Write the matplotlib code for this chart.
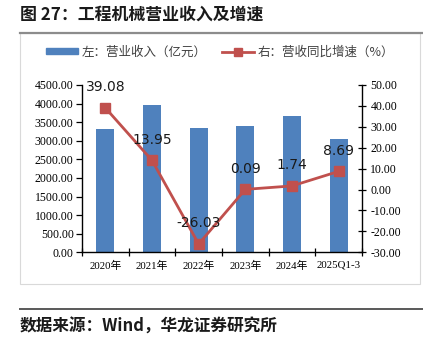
import matplotlib
matplotlib.use("Agg")
import matplotlib.pyplot as plt
from matplotlib.lines import Line2D
from matplotlib.patches import Rectangle, Patch

plt.rcParams['font.family'] = ['Noto Sans CJK SC', 'DejaVu Sans']

categories = ["2020年", "2021年", "2022年", "2023年", "2024年", "2025Q1-3"]
revenue = [3308, 3962, 3351, 3405, 3658, 3048]          # 营业收入（亿元）
growth = [39.08, 13.95, -26.03, 0.09, 1.74, 8.69]       # 营收同比增速（%）
left_ticks = [0, 500, 1000, 1500, 2000, 2500, 3000, 3500, 4000, 4500]
right_ticks = [-30, -20, -10, 0, 10, 20, 30, 40, 50]

BAR = "#4F81BD"
LINE = "#C0504D"
W, H = 423, 337

fig = plt.figure(figsize=(W / 100, H / 100), dpi=100)

def fx(px):
    return px / W

def fy(py):
    return 1 - py / H

# frame around the chart area
fig.add_artist(Rectangle((fx(20), fy(284)), fx(400), fy(33) - fy(284),
                         transform=fig.transFigure, fill=False,
                         edgecolor="#d9d9d9", linewidth=0.8))
fig.add_artist(Line2D([fx(20), 1.0], [fy(33), fy(33)], transform=fig.transFigure,
                      color="#8c8c8c", linewidth=1.6))
fig.add_artist(Line2D([fx(20), 1.0], [fy(309), fy(309)], transform=fig.transFigure,
                      color="#595959", linewidth=1.4))

fig.text(fx(20), fy(15), "图 27：工程机械营业收入及增速", fontsize=12.2,
         fontweight="bold", ha="left", va="center", color="#1a1a1a")
fig.text(fx(20), fy(327), "数据来源：Wind，华龙证券研究所", fontsize=12,
         fontweight="bold", ha="left", va="center", color="#1a1a1a")

ax = fig.add_axes([fx(82), fy(252.3), fx(362) - fx(82), fy(85) - fy(252.3)])
x = list(range(len(categories)))
ax.bar(x, revenue, width=0.39, color=BAR, zorder=2)
ax.set_xlim(-0.5, len(categories) - 0.5)
ax.set_ylim(0, 4500)
ax.set_yticks(left_ticks)
ax.set_yticklabels([f"{v:.2f}" for v in left_ticks], family="Liberation Serif",
                   fontsize=8.5)
ax.set_xticks(x)
ax.set_xticklabels(categories, fontsize=7.8,
                   family=["Liberation Serif", "Noto Sans CJK SC"])
ax.set_xticks([i - 0.5 for i in range(len(categories) + 1)], minor=True)
ax.tick_params(axis="x", which="major", length=0, pad=6)
ax.tick_params(axis="x", which="minor", length=6, direction="inout", width=0.9)
ax.tick_params(axis="y", length=4, direction="out", width=0.9, pad=2)
for s in ["top", "right"]:
    ax.spines[s].set_visible(False)
for s in ["left", "bottom"]:
    ax.spines[s].set_linewidth(1.0)
    ax.spines[s].set_color("#000000")

ax2 = ax.twinx()
ax2.plot(x, growth, color=LINE, linewidth=2, marker="s", markersize=6.5,
         markeredgecolor=LINE, zorder=3)
ax2.set_ylim(-30, 50)
ax2.set_yticks(right_ticks)
ax2.set_yticklabels([f"{v:.2f}" for v in right_ticks], family="Liberation Serif",
                    fontsize=8.5)
ax2.tick_params(axis="y", length=6, direction="inout", width=0.9, pad=3)
for s in ["top", "left", "bottom"]:
    ax2.spines[s].set_visible(False)
ax2.spines["right"].set_linewidth(1.0)

for xi, g in zip(x, growth):
    ax2.annotate(f"{g:.2f}", (xi, g), xytext=(0, 15), textcoords="offset points",
                 ha="center", va="center", fontsize=10, family="DejaVu Sans",
                 color="#1a1a1a", zorder=4)

handles = [Patch(facecolor=BAR, edgecolor=BAR),
           Line2D([], [], color=LINE, linewidth=2, marker="s", markersize=6)]
fig.legend(handles, ["左：营业收入（亿元）", "右：营收同比增速（%）"],
           loc="center", bbox_to_anchor=(fx(220), fy(52)), ncol=2, frameon=False,
           fontsize=9, handlelength=2.6, handleheight=0.35, columnspacing=1.2,
           handletextpad=0.3, labelcolor="#404040")

fig.savefig("out.png", dpi=100)
